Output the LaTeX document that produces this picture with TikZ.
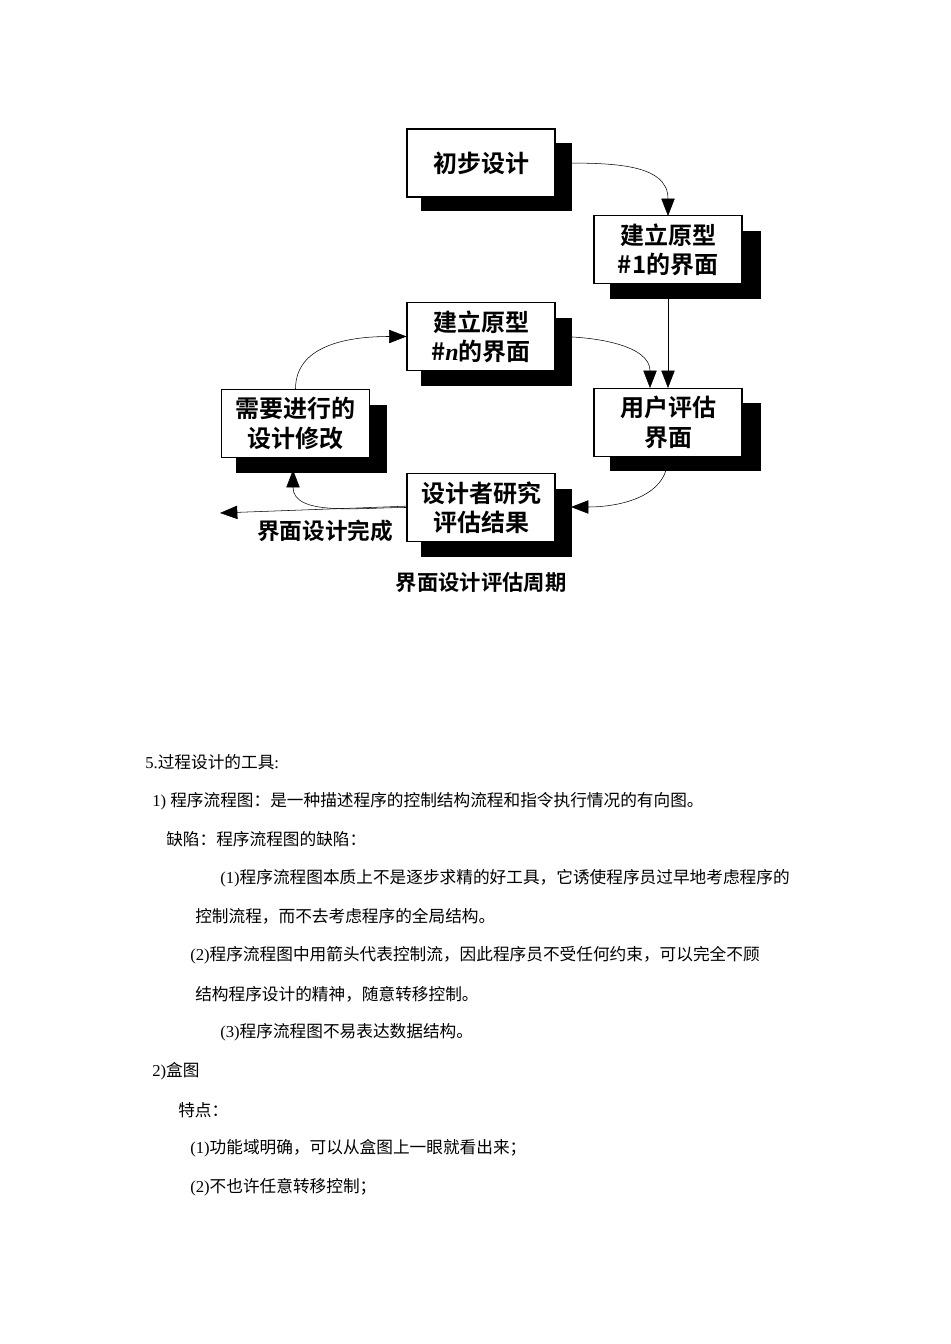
\documentclass[tikz,border=0pt]{standalone}
\usepackage{fontspec}
\setmainfont{Liberation Serif}
\newfontfamily\cjk{Noto Sans CJK SC}
\newfontfamily\cjkb{Noto Sans CJK SC Bold}
\usetikzlibrary{arrows.meta}
\begin{document}
\begin{tikzpicture}[x=0.75pt,y=-0.75pt,
  bx/.style={draw,thick,fill=white,minimum width=111pt,minimum height=51pt,inner sep=0pt,align=center,font=\cjkb\fontsize{18}{22}\selectfont},
  ar/.style={-{Triangle[length=13pt,width=10pt]},thin},
  bt/.style={anchor=west,font=\cjk\fontsize{12.5}{14}\selectfont,inner sep=0pt}]
\useasboundingbox (0,0) rectangle (950,1344);
% shadows
\foreach \x/\y in {406/128,595/216,406/303,595/388,221/390,406/474}
  \fill (\x+15,\y+15) rectangle ++(151,68);
\node[bx] (a) at (481,163) {初步设计};
\node[bx] (b) at (668,249.5) {建立原型\\\#1的界面};
\node[bx] (c) at (481,336.5) {建立原型\\\#{\rmfamily\bfseries\itshape n}的界面};
\node[bx] (d) at (668,422.5) {用户评估\\界面};
\node[bx] (e) at (295.5,423.5) {需要进行的\\设计修改};
\node[bx] (f) at (481,507.5) {设计者研究\\评估结果};
\coordinate (bt) at (668,216);
\coordinate (dt1) at (668,388);
\coordinate (dt2) at (650,388);
\coordinate (fr) at (571,507);
\coordinate (eb) at (293,470);
\coordinate (out) at (220,513);
\draw[ar] (a.east) to[out=0,in=90,looseness=1.1] (bt);
\draw[ar] (b.south) -- (dt1);
\draw[ar] (c.east) to[out=0,in=90] (dt2);
\draw[ar] (d.south) to[out=-90,in=0] (fr);
\draw[ar] (f.west) to[out=180,in=-90] (eb);
\draw[ar] (e.north) to[out=90,in=180] (c.west);
\draw[ar] ([yshift=1pt]f.west) -- (out);
\node[font=\cjkb\fontsize{17}{20}\selectfont,inner sep=0pt] (done) at (325,531) {界面设计完成};
\node[font=\cjkb\fontsize{16}{20}\selectfont,inner sep=0pt] (cap) at (481,582) {界面设计评估周期};
% body text
\node[bt] (t1) at (145,762) {{\rmfamily 5.}过程设计的工具{\rmfamily :}};
\node[bt] (t2) at (152,801) {{\rmfamily 1) }程序流程图：是一种描述程序的控制结构流程和指令执行情况的有向图。};
\node[bt] (t3) at (166,839) {缺陷：程序流程图的缺陷：};
\node[bt] (t4) at (220,878) {{\rmfamily (1)}程序流程图本质上不是逐步求精的好工具，它诱使程序员过早地考虑程序的};
\node[bt] (t5) at (195,916) {控制流程，而不去考虑程序的全局结构。};
\node[bt] (t6) at (190,955) {{\rmfamily (2)}程序流程图中用箭头代表控制流，因此程序员不受任何约束，可以完全不顾};
\node[bt] (t7) at (195,994) {结构程序设计的精神，随意转移控制。};
\node[bt] (t8) at (220,1032) {{\rmfamily (3)}程序流程图不易表达数据结构。};
\node[bt] (t9) at (152,1071) {{\rmfamily 2)}盒图};
\node[bt] (t10) at (178,1110) {特点：};
\node[bt] (t11) at (190,1148) {{\rmfamily (1)}功能域明确，可以从盒图上一眼就看出来；};
\node[bt] (t12) at (190,1187) {{\rmfamily (2)}不也许任意转移控制；};
\end{tikzpicture}
\end{document}
